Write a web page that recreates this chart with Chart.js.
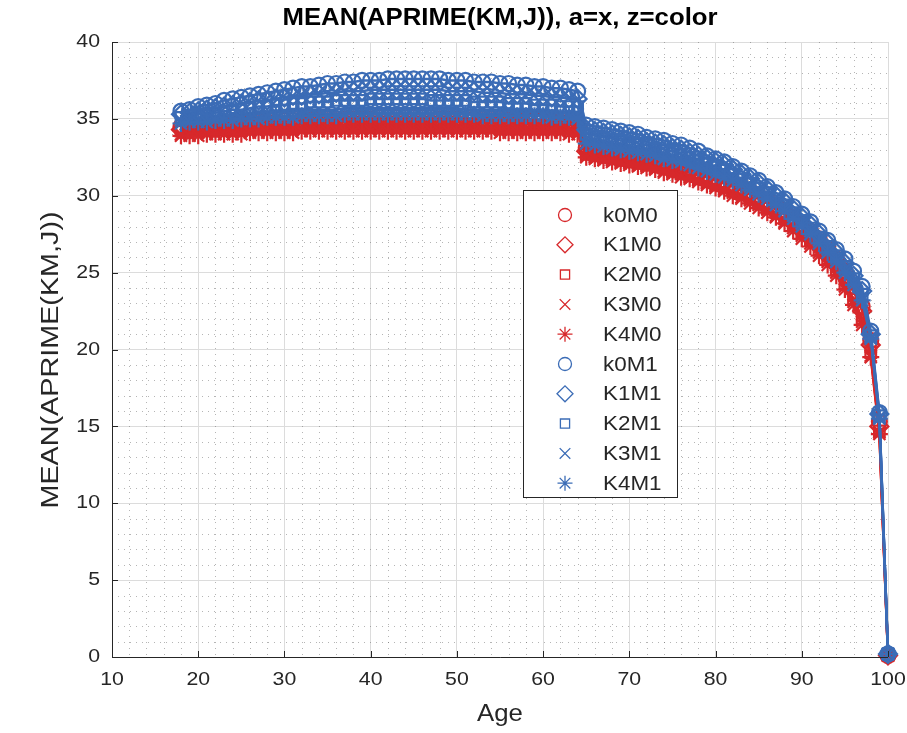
<!DOCTYPE html>
<html>
<head>
<meta charset="utf-8">
<title>MEAN(APRIME(KM,J))</title>
<script src="https://cdn.jsdelivr.net/npm/chart.js@4.4.0/dist/chart.umd.min.js"></script>
<style>
  html, body { margin: 0; padding: 0; background: #fff; }
  canvas { display: block; }
</style>
</head>
<body>
<canvas id="aprime" width="907" height="733"></canvas>
<script>
'use strict';

/* ── Data: mean savings by age, one series per K/M group ── */

const AGES = [
  18, 19, 20, 21, 22, 23, 24, 25, 26, 27, 28, 29,
  30, 31, 32, 33, 34, 35, 36, 37, 38, 39,
  40, 41, 42, 43, 44, 45, 46, 47, 48, 49,
  50, 51, 52, 53, 54, 55, 56, 57, 58, 59,
  60, 61, 62, 63, 64, 65, 66, 67, 68, 69,
  70, 71, 72, 73, 74, 75, 76, 77, 78, 79,
  80, 81, 82, 83, 84, 85, 86, 87, 88, 89,
  90, 91, 92, 93, 94, 95, 96, 97, 98, 99, 100
];

const K0M0 = [
  34.5, 34.5, 34.6, 34.6, 34.6, 34.7, 34.7, 34.7, 34.8, 34.8, 34.8, 34.8,
  34.9, 34.9, 34.9, 34.9, 34.9, 35.0, 35.0, 35.0, 35.0, 35.0,
  35.0, 35.1, 35.1, 35.1, 35.1, 35.1, 35.1, 35.1, 35.0, 35.0,
  35.0, 35.0, 35.0, 35.0, 35.0, 35.0, 34.9, 34.9, 34.9, 34.9,
  34.9, 34.9, 34.8, 34.8, 34.8, 33.1, 33.0, 32.9, 32.8, 32.7,
  32.6, 32.5, 32.4, 32.3, 32.2, 32.1, 31.9, 31.8, 31.6, 31.4,
  31.2, 31.0, 30.8, 30.6, 30.3, 30.0, 29.7, 29.4, 29.0, 28.6,
  28.2, 27.7, 27.2, 26.6, 25.9, 25.1, 24.1, 22.8, 20.6, 15.3, 0.1
];
const K1M0 = [
  34.3, 34.3, 34.4, 34.4, 34.4, 34.5, 34.5, 34.5, 34.5, 34.6, 34.6, 34.6,
  34.6, 34.6, 34.7, 34.7, 34.7, 34.7, 34.7, 34.8, 34.8, 34.8,
  34.8, 34.8, 34.8, 34.8, 34.8, 34.8, 34.8, 34.8, 34.8, 34.8,
  34.8, 34.7, 34.7, 34.7, 34.7, 34.7, 34.7, 34.7, 34.7, 34.6,
  34.6, 34.6, 34.6, 34.6, 34.5, 32.9, 32.8, 32.7, 32.6, 32.5,
  32.4, 32.3, 32.2, 32.1, 32.0, 31.8, 31.7, 31.5, 31.4, 31.2,
  31.0, 30.8, 30.6, 30.3, 30.1, 29.8, 29.5, 29.1, 28.8, 28.4,
  27.9, 27.4, 26.9, 26.3, 25.6, 24.8, 23.8, 22.5, 20.3, 15.0, 0.1
];
const K2M0 = [
  34.2, 34.2, 34.2, 34.3, 34.3, 34.3, 34.3, 34.4, 34.4, 34.4, 34.4, 34.4,
  34.5, 34.5, 34.5, 34.5, 34.5, 34.5, 34.6, 34.6, 34.6, 34.6,
  34.6, 34.6, 34.6, 34.6, 34.6, 34.6, 34.6, 34.6, 34.6, 34.6,
  34.6, 34.6, 34.5, 34.5, 34.5, 34.5, 34.5, 34.5, 34.5, 34.5,
  34.4, 34.4, 34.4, 34.4, 34.4, 32.7, 32.6, 32.5, 32.4, 32.3,
  32.2, 32.1, 32.0, 31.9, 31.8, 31.6, 31.5, 31.3, 31.1, 30.9,
  30.7, 30.5, 30.3, 30.1, 29.8, 29.5, 29.2, 28.9, 28.5, 28.1,
  27.6, 27.1, 26.5, 25.9, 25.2, 24.3, 23.3, 22.0, 19.8, 14.7, 0.1
];
const K3M0 = [
  34.0, 34.0, 34.1, 34.1, 34.1, 34.2, 34.2, 34.2, 34.2, 34.2, 34.3, 34.3,
  34.3, 34.3, 34.3, 34.3, 34.4, 34.4, 34.4, 34.4, 34.4, 34.4,
  34.4, 34.4, 34.4, 34.4, 34.4, 34.4, 34.4, 34.4, 34.4, 34.4,
  34.4, 34.4, 34.4, 34.3, 34.3, 34.3, 34.3, 34.3, 34.3, 34.3,
  34.3, 34.3, 34.2, 34.2, 34.2, 32.6, 32.5, 32.4, 32.3, 32.2,
  32.1, 32.0, 31.9, 31.8, 31.6, 31.5, 31.4, 31.2, 31.0, 30.8,
  30.6, 30.4, 30.2, 29.9, 29.7, 29.4, 29.1, 28.7, 28.3, 27.9,
  27.4, 26.9, 26.3, 25.7, 25.0, 24.1, 23.1, 21.8, 19.6, 14.6, 0.1
];
const K4M0 = [
  33.9, 33.9, 33.9, 34.0, 34.0, 34.0, 34.0, 34.0, 34.1, 34.1, 34.1, 34.1,
  34.1, 34.1, 34.2, 34.2, 34.2, 34.2, 34.2, 34.2, 34.2, 34.2,
  34.2, 34.2, 34.2, 34.2, 34.2, 34.2, 34.2, 34.2, 34.2, 34.2,
  34.2, 34.2, 34.2, 34.2, 34.2, 34.1, 34.1, 34.1, 34.1, 34.1,
  34.1, 34.1, 34.1, 34.0, 34.0, 32.5, 32.4, 32.3, 32.2, 32.1,
  32.0, 31.9, 31.8, 31.7, 31.5, 31.4, 31.2, 31.1, 30.9, 30.7,
  30.5, 30.3, 30.0, 29.8, 29.5, 29.2, 28.9, 28.6, 28.2, 27.7,
  27.2, 26.7, 26.1, 25.5, 24.8, 23.9, 22.9, 21.6, 19.5, 14.5, 0.1
];
const K0M1 = [
  35.5, 35.6, 35.8, 35.9, 36.0, 36.2, 36.3, 36.4, 36.5, 36.6, 36.7, 36.8,
  36.9, 37.0, 37.1, 37.1, 37.2, 37.3, 37.3, 37.4, 37.4, 37.5,
  37.5, 37.5, 37.6, 37.6, 37.6, 37.6, 37.6, 37.6, 37.6, 37.5,
  37.5, 37.5, 37.4, 37.4, 37.4, 37.3, 37.3, 37.2, 37.2, 37.1,
  37.1, 37.0, 37.0, 36.9, 36.8, 34.6, 34.5, 34.4, 34.3, 34.2,
  34.1, 34.0, 33.8, 33.7, 33.6, 33.4, 33.3, 33.1, 32.9, 32.6,
  32.4, 32.2, 31.9, 31.6, 31.3, 31.0, 30.6, 30.2, 29.8, 29.3,
  28.8, 28.3, 27.7, 27.1, 26.5, 25.9, 25.1, 24.1, 21.2, 15.9, 0.2
];
const K1M1 = [
  35.3, 35.4, 35.5, 35.6, 35.7, 35.8, 35.9, 36.0, 36.1, 36.2, 36.2, 36.3,
  36.4, 36.5, 36.5, 36.6, 36.6, 36.7, 36.7, 36.8, 36.8, 36.8,
  36.9, 36.9, 36.9, 36.9, 36.9, 36.9, 36.9, 36.9, 36.9, 36.8,
  36.8, 36.8, 36.8, 36.7, 36.7, 36.7, 36.6, 36.6, 36.6, 36.5,
  36.5, 36.4, 36.4, 36.3, 36.3, 34.3, 34.2, 34.1, 34.0, 33.9,
  33.8, 33.7, 33.5, 33.4, 33.3, 33.1, 33.0, 32.8, 32.6, 32.4,
  32.2, 32.0, 31.7, 31.4, 31.1, 30.8, 30.4, 30.0, 29.6, 29.1,
  28.6, 28.1, 27.5, 26.9, 26.3, 25.6, 24.8, 23.8, 21.0, 15.8, 0.2
];
const K2M1 = [
  35.1, 35.2, 35.3, 35.3, 35.4, 35.5, 35.6, 35.6, 35.7, 35.8, 35.8, 35.9,
  35.9, 36.0, 36.0, 36.1, 36.1, 36.1, 36.2, 36.2, 36.2, 36.2,
  36.3, 36.3, 36.3, 36.3, 36.3, 36.3, 36.3, 36.2, 36.2, 36.2,
  36.2, 36.2, 36.1, 36.1, 36.1, 36.1, 36.0, 36.0, 36.0, 35.9,
  35.9, 35.9, 35.8, 35.8, 35.8, 34.0, 33.9, 33.8, 33.7, 33.6,
  33.5, 33.4, 33.3, 33.1, 33.0, 32.9, 32.7, 32.5, 32.3, 32.1,
  31.9, 31.7, 31.4, 31.1, 30.8, 30.5, 30.2, 29.8, 29.4, 28.9,
  28.4, 27.9, 27.3, 26.7, 26.1, 25.4, 24.6, 23.6, 20.9, 15.7, 0.2
];
const K3M1 = [
  34.9, 35.0, 35.0, 35.1, 35.1, 35.2, 35.2, 35.3, 35.3, 35.4, 35.4, 35.4,
  35.5, 35.5, 35.5, 35.6, 35.6, 35.6, 35.6, 35.7, 35.7, 35.7,
  35.7, 35.7, 35.7, 35.7, 35.7, 35.7, 35.7, 35.7, 35.7, 35.7,
  35.7, 35.6, 35.6, 35.6, 35.6, 35.6, 35.6, 35.5, 35.5, 35.5,
  35.5, 35.4, 35.4, 35.4, 35.3, 33.7, 33.6, 33.5, 33.4, 33.3,
  33.2, 33.1, 33.0, 32.9, 32.7, 32.6, 32.4, 32.3, 32.1, 31.9,
  31.7, 31.5, 31.2, 30.9, 30.6, 30.3, 30.0, 29.6, 29.2, 28.7,
  28.2, 27.7, 27.1, 26.5, 25.9, 25.2, 24.4, 23.4, 20.8, 15.6, 0.2
];
const K4M1 = [
  34.7, 34.8, 34.8, 34.8, 34.9, 34.9, 34.9, 35.0, 35.0, 35.0, 35.1, 35.1,
  35.1, 35.1, 35.2, 35.2, 35.2, 35.2, 35.2, 35.3, 35.3, 35.3,
  35.3, 35.3, 35.3, 35.3, 35.3, 35.3, 35.3, 35.3, 35.3, 35.3,
  35.3, 35.3, 35.3, 35.2, 35.2, 35.2, 35.2, 35.2, 35.2, 35.2,
  35.2, 35.1, 35.1, 35.1, 35.0, 33.4, 33.3, 33.2, 33.1, 33.0,
  32.9, 32.8, 32.7, 32.6, 32.4, 32.3, 32.2, 32.0, 31.8, 31.6,
  31.4, 31.2, 31.0, 30.7, 30.4, 30.1, 29.8, 29.4, 29.0, 28.5,
  28.0, 27.5, 26.9, 26.3, 25.7, 25.0, 24.2, 23.2, 20.7, 15.5, 0.2
];

const LABELS  = ['k0M0', 'K1M0', 'K2M0', 'K3M0', 'K4M0', 'k0M1', 'K1M1', 'K2M1', 'K3M1', 'K4M1'];
const VALUES  = [K0M0, K1M0, K2M0, K3M0, K4M0, K0M1, K1M1, K2M1, K3M1, K4M1];
const X_TICKS = [10, 20, 30, 40, 50, 60, 70, 80, 90, 100];
const Y_TICKS = [0, 5, 10, 15, 20, 25, 30, 35, 40];

/* ── Styles ── */

const RED  = '#d7282b';
const BLUE = '#3b6cb6';
const INK  = '#262626';
const FONT = "'Liberation Sans', Arial, Helvetica, sans-serif";
const SX   = 1.12;   // horizontal text stretch, helvetica-ish width

// marker shape per K index (circle, diamond, square, x, star);
// plot markers are drawn a bit heavier than the legend ones
const MARKERS = [
  { style: 'circle',   radius: 7.5, legendRadius: 6.5 },
  { style: 'rectRot',  radius: 9,   legendRadius: 8 },
  { style: 'rect',     radius: 7.5, legendRadius: 6.5 },
  { style: 'crossRot', radius: 8.5, legendRadius: 7.5 },
  { style: 'star',     radius: 8.5, legendRadius: 7.5 }
];

function seriesColor(i) { return i < 5 ? RED : BLUE; }

/* ── Helpers ── */

function stretchText(ctx, text, x, y, align, rot, sx) {
  ctx.save();
  ctx.translate(x, y);
  if (rot) ctx.rotate(rot);
  ctx.scale(sx || SX, 1);
  ctx.textAlign = align;
  ctx.fillText(text, 0, 0);
  ctx.restore();
}

/* ── Plugin: minor grid, inward ticks, labels, title, legend box ── */

const axesDecor = {
  id: 'axesDecor',

  beforeDatasetsDraw(chart) {
    const { ctx, chartArea: a, scales: { x, y } } = chart;
    ctx.save();
    ctx.strokeStyle = 'rgba(90,90,90,0.45)';
    ctx.lineWidth = 1;
    ctx.setLineDash([1, 5]);
    for (let v = 12; v < 100; v += 2) {
      if (v % 10 === 0) continue;
      const px = Math.round(x.getPixelForValue(v)) + 0.5;
      ctx.beginPath(); ctx.moveTo(px, a.top); ctx.lineTo(px, a.bottom); ctx.stroke();
    }
    for (let v = 1; v < 40; v++) {
      if (v % 5 === 0) continue;
      const py = Math.round(y.getPixelForValue(v)) + 0.5;
      ctx.beginPath(); ctx.moveTo(a.left, py); ctx.lineTo(a.right, py); ctx.stroke();
    }
    ctx.restore();
  },

  afterDatasetsDraw(chart) {
    const { ctx, chartArea: a, scales: { x, y } } = chart;
    ctx.save();

    // axis lines on left and bottom, ticks pointing inward
    ctx.strokeStyle = INK;
    ctx.lineWidth = 1;
    ctx.beginPath();
    ctx.moveTo(a.left + 0.5, a.top);
    ctx.lineTo(a.left + 0.5, a.bottom + 0.5);
    ctx.lineTo(a.right, a.bottom + 0.5);
    ctx.stroke();
    X_TICKS.forEach(v => {
      const px = Math.round(x.getPixelForValue(v)) + 0.5;
      ctx.beginPath(); ctx.moveTo(px, a.bottom); ctx.lineTo(px, a.bottom - 6); ctx.stroke();
    });
    Y_TICKS.forEach(v => {
      const py = Math.round(y.getPixelForValue(v)) + 0.5;
      ctx.beginPath(); ctx.moveTo(a.left, py); ctx.lineTo(a.left + 6, py); ctx.stroke();
    });

    // tick labels
    ctx.fillStyle = INK;
    ctx.font = `19px ${FONT}`;
    ctx.textBaseline = 'middle';
    X_TICKS.forEach(v => stretchText(ctx, String(v), x.getPixelForValue(v), a.bottom + 23, 'center'));
    Y_TICKS.forEach(v => stretchText(ctx, String(v), a.left - 12, y.getPixelForValue(v), 'right'));

    // axis titles
    ctx.font = `23px ${FONT}`;
    stretchText(ctx, 'Age', (a.left + a.right) / 2, 715, 'center');
    stretchText(ctx, 'MEAN(APRIME(KM,J))', 52, 360, 'center', -Math.PI / 2, 1.25);

    // title
    ctx.fillStyle = '#000';
    ctx.font = `bold 23px ${FONT}`;
    stretchText(ctx, 'MEAN(APRIME(KM,J)), a=x, z=color', (a.left + a.right) / 2, 19, 'center');

    // legend box
    const bx = 523.5, by = 190.5, bw = 154, bh = 307;
    ctx.fillStyle = '#fff';
    ctx.fillRect(bx, by, bw, bh);
    ctx.strokeStyle = INK;
    ctx.strokeRect(bx, by, bw, bh);
    ctx.font = `20px ${FONT}`;
    chart.data.datasets.forEach((ds, i) => {
      const rowY = 215 + i * 29.8;
      ctx.save();
      ctx.strokeStyle = ds.borderColor;
      ctx.fillStyle = 'rgba(0,0,0,0)';
      ctx.lineWidth = 1.3;
      Chart.helpers.drawPoint(ctx, {
        pointStyle: ds.pointStyle, radius: MARKERS[i % 5].legendRadius, borderWidth: 1.3, rotation: 0
      }, 565, rowY);
      ctx.restore();
      ctx.fillStyle = INK;
      stretchText(ctx, ds.label, 603, rowY + 1, 'left');
    });

    ctx.restore();
  }
};

/* ── Chart ── */

const datasets = LABELS.map((label, i) => {
  const m = MARKERS[i % 5];
  return {
    label,
    data: AGES.map((age, j) => ({ x: age, y: VALUES[i][j] })),
    borderColor: seriesColor(i),
    backgroundColor: 'rgba(0,0,0,0)',
    borderWidth: 2.5,
    pointStyle: m.style,
    pointRadius: m.radius,
    pointBorderWidth: 2.2,
    pointBackgroundColor: 'rgba(0,0,0,0)',
    tension: 0,
    clip: false,
    order: LABELS.length - i
  };
});

new Chart(document.getElementById('aprime'), {
  type: 'line',
  data: { datasets },
  options: {
    responsive: false,
    animation: false,
    devicePixelRatio: 1,
    layout: { padding: { top: 42, right: 19, left: 0, bottom: 0 } },
    plugins: {
      legend:  { display: false },
      title:   { display: false },
      tooltip: { enabled: false }
    },
    scales: {
      x: {
        type: 'linear', min: 10, max: 100,
        ticks: { stepSize: 10, display: false },
        grid:  { color: '#dcdcdc', drawTicks: false },
        border: { display: false },
        afterFit(s) { s.height = 76; }
      },
      y: {
        type: 'linear', min: 0, max: 40,
        ticks: { stepSize: 5, display: false },
        grid:  { color: '#dcdcdc', drawTicks: false },
        border: { display: false },
        afterFit(s) { s.width = 112; }
      }
    }
  },
  plugins: [axesDecor]
});
</script>
</body>
</html>
